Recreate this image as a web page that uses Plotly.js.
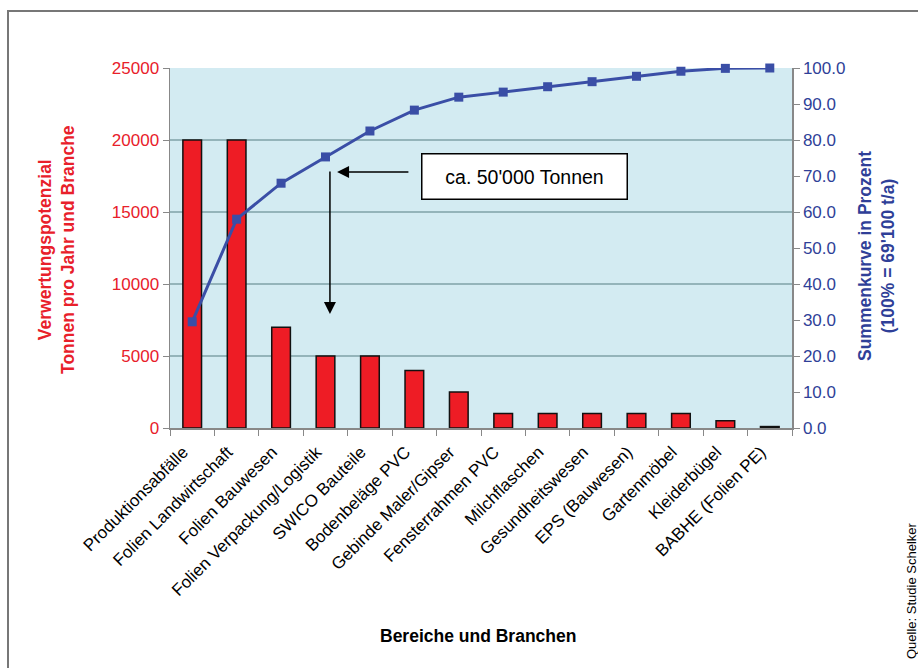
<!DOCTYPE html>
<html>
<head>
<meta charset="utf-8">
<script src="https://cdn.plot.ly/plotly-3.0.1.min.js"></script>
<style>
html,body{margin:0;padding:0;background:#fff;}
#chart{width:918px;height:668px;}
</style>
</head>
<body>
<div id="chart"></div>
<script>
var categories = ["Produktionsabfälle","Folien Landwirtschaft","Folien Bauwesen","Folien Verpackung/Logistik","SWICO Bauteile","Bodenbeläge PVC","Gebinde Maler/Gipser","Fensterrahmen PVC","Milchflaschen","Gesundheitswesen","EPS (Bauwesen)","Gartenmöbel","Kleiderbügel","BABHE (Folien PE)"];
var tonnen = [20000,20000,7000,5000,5000,4000,2500,1000,1000,1000,1000,1000,500,100];
var summenkurve = [29.5,58.0,68.0,75.3,82.5,88.3,91.9,93.3,94.8,96.2,97.7,99.1,99.9,100.0];
var leftTicks = [0,5000,10000,15000,20000,25000];
var rightTicks = [0,10,20,30,40,50,60,70,80,90,100];

var FONT = "Liberation Sans, Arial, sans-serif";
var RED = "#e8202a";
var BLUE = "#2f3f98";

var bars = {
  type: "bar", x: categories, y: tonnen, yaxis: "y",
  marker: {color: "#ee1c25", line: {color: "#111", width: 1.5}},
  width: 0.42, hoverinfo: "skip", showlegend: false
};
var line = {
  type: "scatter", mode: "lines+markers", x: categories, y: summenkurve, yaxis: "y2",
  line: {color: "#3a4ea6", width: 3},
  marker: {symbol: "square", size: 9, color: "#3a4ea6"},
  hoverinfo: "skip", showlegend: false, cliponaxis: false
};

// plot area in px: x 170..792, y 68..428
function px(x){return (x-170)/622;}
function py(y){return (428-y)/360;}

var layout = {
  width: 918, height: 668,
  margin: {l:170, r:126, t:68, b:240},
  paper_bgcolor: "#ffffff",
  plot_bgcolor: "#d3ebf2",
  font: {family: FONT, color: "#000"},
  showlegend: false,
  xaxis: {
    type: "category", range: [-0.5, categories.length - 0.5], autorange: false,
    tickson: "boundaries", ticks: "outside", ticklen: 6,
    tickcolor: "#888", showline: true, linecolor: "#888", linewidth: 1.5,
    tickangle: -45, tickfont: {size: 17, color: "#000", family: FONT},
    ticklabelshift: -9, ticklabelstandoff: 6,
    showgrid: false, fixedrange: true
  },
  yaxis: {
    range: [0, 25000], tickvals: leftTicks, ticktext: leftTicks.map(String),
    ticks: "outside", ticklen: 6, tickcolor: "#888",
    showline: true, linecolor: "#888", linewidth: 1.5,
    showgrid: true, gridcolor: "#94b4ba", gridwidth: 1.2,
    zeroline: false,
    tickfont: {size: 17, color: RED, family: FONT}, fixedrange: true
  },
  yaxis2: {
    overlaying: "y", side: "right", range: [0, 100],
    tickvals: rightTicks, ticktext: rightTicks.map(function(v){return v.toFixed(1);}),
    ticks: "outside", ticklen: 6, tickcolor: "#888",
    showline: true, linecolor: "#888", linewidth: 1.5,
    showgrid: false, zeroline: false,
    tickfont: {size: 17, color: BLUE, family: FONT}, fixedrange: true
  },
  shapes: [
    {type: "path", xref: "paper", yref: "paper",
     path: "M " + px(8) + " " + py(668) + " L " + px(8) + " " + py(11) + " L " + px(918) + " " + py(11),
     line: {color: "#777", width: 2}}
  ],
  annotations: [
    {xref: "paper", yref: "paper", x: px(56), y: py(250), xanchor: "center", yanchor: "middle",
     textangle: -90, showarrow: false,
     text: "<b>Verwertungspotenzial<br>Tonnen pro Jahr und Branche</b>",
     font: {size: 17.5, color: RED, family: FONT}},
    {xref: "paper", yref: "paper", x: px(877), y: py(256), xanchor: "center", yanchor: "middle",
     textangle: -90, showarrow: false,
     text: "<b>Summenkurve in Prozent<br>(100% = 69'100 t/a)</b>",
     font: {size: 17.5, color: BLUE, family: FONT}},
    {xref: "paper", yref: "paper", x: px(478), y: py(636), xanchor: "center", yanchor: "middle",
     showarrow: false,
     text: "<b>Bereiche und Branchen</b>", font: {size: 17.5, color: "#000", family: FONT}},
    {xref: "paper", yref: "paper", x: px(911), y: py(591), xanchor: "center", yanchor: "middle",
     textangle: -90, showarrow: false,
     text: "Quelle: Studie Schelker", font: {size: 13, color: "#000", family: FONT}},
    {xref: "x", yref: "y", x: 7.47, y: 17500, xanchor: "center", yanchor: "middle", showarrow: false,
     text: "ca. 50'000 Tonnen", font: {size: 19.5, color: "#000", family: FONT},
     bgcolor: "#ffffff", bordercolor: "#000", borderwidth: 1.5, borderpad: 3,
     width: 198, height: 38},
    {xref: "x", yref: "y", x: 3.26, y: 17780, axref: "x", ayref: "y", ax: 4.90, ay: 17780,
     text: "", showarrow: true, arrowhead: 2, arrowsize: 1.6, arrowwidth: 1.5, arrowcolor: "#000"},
    {xref: "x", yref: "y", x: 3.10, y: 7917, axref: "x", ayref: "y", ax: 3.10, ay: 17917,
     text: "", showarrow: true, arrowhead: 2, arrowsize: 1.6, arrowwidth: 1.5, arrowcolor: "#000"}
  ]
};

Plotly.newPlot("chart", [bars, line], layout, {staticPlot: true, displayModeBar: false});
</script>
</body>
</html>
